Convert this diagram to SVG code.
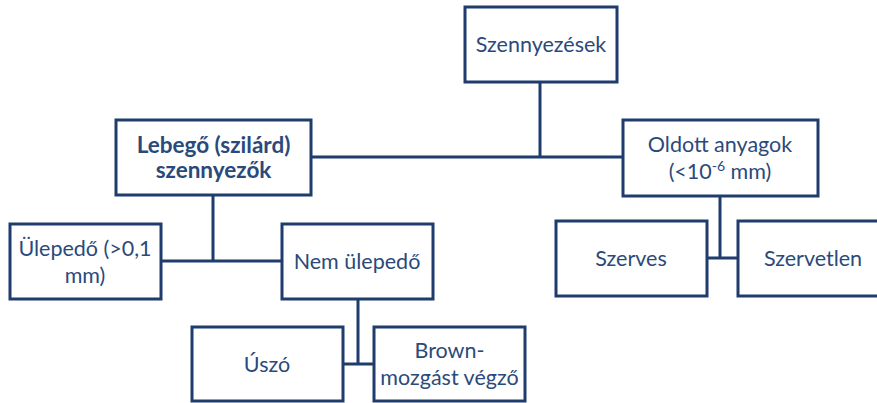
<svg xmlns="http://www.w3.org/2000/svg" width="877" height="403" viewBox="0 0 877 403">
<style>
.box{fill:#fff;stroke:#1f3d6c;stroke-width:3}
.ln{fill:none;stroke:#1f3d6c;stroke-width:3}
text{font-family:Lato,"Open Sans","Liberation Sans",sans-serif;font-size:21.5px;fill:#2a4a7b;text-anchor:middle}
.b{font-weight:bold;font-size:22.5px}
</style>
<rect width="877" height="403" fill="#fff"/>
<g id="connectors">
<path class="ln" d="M540 82V157M311 157H623"/>
<path class="ln" d="M213 195V261M161 261H282"/>
<path class="ln" d="M358 299V364M343 364H374"/>
<path class="ln" d="M720 196V258M707 258H738"/>
</g>
<g id="n-szennyezesek"><rect class="box" x="465" y="7" width="152" height="75"/><text x="541" y="52">Szennyezések</text></g>
<g id="n-lebego"><rect class="box" x="116" y="120" width="195" height="75"/><text class="b" x="213.5" y="153">Lebegő (szilárd)</text><text class="b" x="213.5" y="178">szennyezők</text></g>
<g id="n-oldott"><rect class="box" x="623" y="120" width="195" height="76"/><text x="720" y="152">Oldott anyagok</text><text x="720" y="179">(&lt;10<tspan font-size="14" dy="-8">-6</tspan><tspan dy="8"> mm)</tspan></text></g>
<g id="n-ulepedo"><rect class="box" x="10" y="224" width="151" height="75"/><text x="85" y="256">Ülepedő (&gt;0,1</text><text x="85" y="283">mm)</text></g>
<g id="n-nemulepedo"><rect class="box" x="282" y="224" width="151" height="75"/><text x="357" y="269">Nem ülepedő</text></g>
<g id="n-szerves"><rect class="box" x="556" y="221" width="151" height="75"/><text x="631" y="266">Szerves</text></g>
<g id="n-szervetlen"><rect class="box" x="738" y="221" width="151" height="75"/><text x="813" y="266">Szervetlen</text></g>
<g id="n-uszo"><rect class="box" x="192" y="327" width="151" height="74"/><text x="267" y="372">Úszó</text></g>
<g id="n-brown"><rect class="box" x="374" y="327" width="151" height="74"/><text x="449.5" y="358">Brown-</text><text x="449.5" y="385">mozgást végző</text></g>
</svg>
